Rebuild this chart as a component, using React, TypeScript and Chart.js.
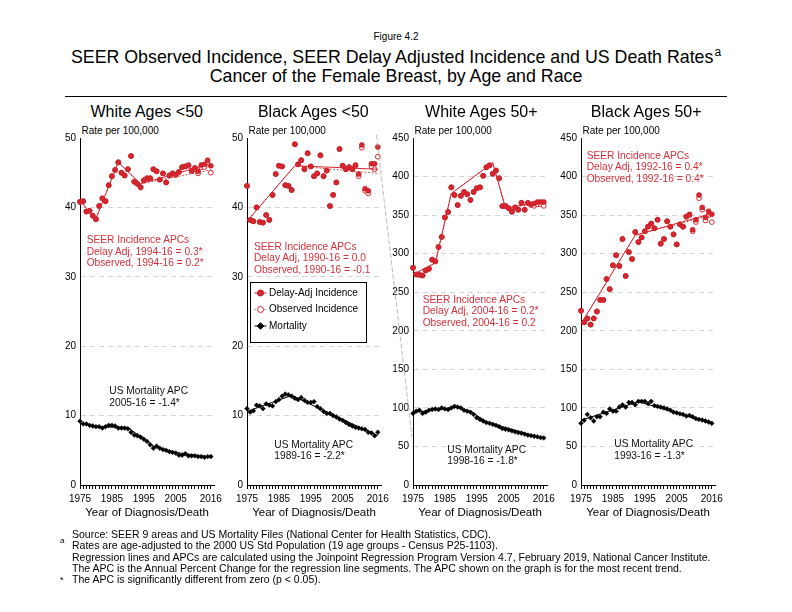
import React, { useEffect, useRef } from "react";
import { Chart, registerables } from "chart.js";

Chart.register(...registerables);

const FONT = "'Liberation Sans', Arial, Helvetica, sans-serif";
const RED = "#d9262e";
const RED_DARK = "#b51d26";
const RED_TEXT = "#d5303c";

const YEARS = [
  1975, 1976, 1977, 1978, 1979, 1980, 1981, 1982, 1983, 1984,
  1985, 1986, 1987, 1988, 1989, 1990, 1991, 1992, 1993, 1994,
  1995, 1996, 1997, 1998, 1999, 2000, 2001, 2002, 2003, 2004,
  2005, 2006, 2007, 2008, 2009, 2010, 2011, 2012, 2013, 2014,
  2015, 2016,
];
const X_TICK_LABELS = [1975, 1985, 1995, 2005, 2016];

// ---- White Ages <50 ----
const WU50_DELAY = [
  40.8, 40.9, 39.4, 39.5, 38.8, 38.3, 40.2, 41.3, 40.9, 43.2,
  44.5, 45.4, 46.5, 45.0, 44.6, 45.5, 47.4, 43.7, 43.4, 42.9,
  43.9, 44.2, 44.2, 45.5, 45.2, 44.0, 44.9, 43.6, 44.6, 44.9,
  44.7, 45.1, 45.8, 45.9, 46.1, 45.3, 45.7, 45.2, 46.1, 46.2,
  46.8, 46.0,
];
const WU50_OBS = [
  40.8, 40.9, 39.4, 39.5, 38.8, 38.3, 40.2, 41.3, 40.9, 43.2,
  44.5, 45.4, 46.5, 45.0, 44.6, 45.5, 47.4, 43.7, 43.4, 42.9,
  43.9, 44.2, 44.2, 45.5, 45.2, 44.0, 44.9, 43.6, 44.6, 44.9,
  44.7, 45.1, 45.8, 45.9, 46.0, 45.2, 45.5, 44.9, 45.8, 45.8,
  46.3, 45.0,
];
const WU50_MORT = [
  9.2, 8.8, 8.8, 8.6, 8.5, 8.4, 8.4, 8.2, 8.4, 8.6,
  8.6, 8.5, 8.2, 8.2, 8.2, 8.1, 7.6, 7.2, 7.1, 6.9,
  6.6, 6.3, 5.8, 5.3, 5.6, 5.3, 5.1, 5.0, 4.8, 4.7,
  4.6, 4.3, 4.3, 4.5, 4.2, 4.2, 4.2, 4.1, 4.1, 4.0,
  4.1, 4.1,
];
const WU50_TREND_YEARS = [1975, 1980, 1987, 1994, 2016];
const WU50_TREND_DELAY = [40.9, 38.4, 46.5, 43.4, 46.3];
const WU50_TREND_OBS = [40.9, 38.4, 46.5, 43.4, 45.4];
const WU50_MORT_TREND_YEARS = [1975, 1980, 1990, 1998, 2005, 2016];
const WU50_MORT_TREND = [8.9, 8.4, 8.3, 5.6, 4.7, 4.0];

// ---- Black Ages <50 ----
const BU50_DELAY = [
  43.1, 38.2, 38.0, 40.0, 37.9, 37.8, 38.9, 38.2, 41.8, 44.8,
  46.0, 45.9, 43.2, 43.1, 42.5, 49.1, 46.2, 46.8, 45.5, 47.8,
  45.9, 44.5, 44.9, 47.5, 44.5, 45.3, 40.2, 41.8, 43.6, 48.4,
  46.0, 45.5, 45.8, 45.5, 46.1, 44.8, 49.0, 42.7, 42.4, 46.3,
  46.3, 48.7,
];
const BU50_OBS = [
  43.1, 38.2, 38.0, 40.0, 37.9, 37.8, 38.9, 38.2, 41.8, 44.8,
  46.0, 45.9, 43.2, 43.1, 42.5, 49.1, 46.2, 46.8, 45.5, 47.8,
  45.9, 44.5, 44.9, 47.5, 44.5, 45.3, 40.2, 41.8, 43.6, 48.4,
  46.0, 45.5, 45.8, 45.5, 46.0, 44.5, 48.6, 42.4, 42.0, 45.9,
  45.5, 47.3,
];
const BU50_MORT = [
  11.0, 10.5, 10.7, 11.5, 11.4, 11.0, 11.7, 11.5, 11.4, 12.0,
  12.3, 12.8, 13.1, 13.0, 12.8, 12.5, 12.3, 12.6, 12.2, 11.9,
  11.9, 12.0, 11.3, 11.0, 10.6, 10.3, 10.3, 10.0, 9.8, 9.5,
  9.3, 9.0, 8.7, 8.5, 8.3, 8.2, 8.1, 8.0, 7.6, 7.5,
  7.1, 7.6,
];
const BU50_TREND_YEARS = [1975, 1990, 2016];
const BU50_TREND_DELAY = [38.0, 46.0, 45.5];
const BU50_TREND_OBS = [38.0, 46.0, 44.9];
const BU50_MORT_TREND_YEARS = [1975, 1989, 2016];
const BU50_MORT_TREND = [10.6, 12.9, 7.1];

// ---- White Ages 50+ ----
const W50P_DELAY = [
  281.7, 273.0, 272.5, 271.7, 278.3, 280.4, 292.2, 290.0, 308.7, 321.7,
  347.0, 354.0, 386.0, 376.0, 363.0, 375.0, 380.0, 377.0, 369.6, 380.0,
  384.8, 386.0, 401.0, 412.0, 414.5, 403.5, 407.8, 397.8, 361.7, 361.7,
  359.0, 354.3, 360.0, 357.0, 366.0, 357.0, 366.0, 364.0, 365.0, 367.0,
  367.0, 367.0,
];
const W50P_OBS = [
  281.7, 273.0, 272.5, 271.7, 278.3, 280.4, 292.2, 290.0, 308.7, 321.7,
  347.0, 354.0, 386.0, 376.0, 363.0, 375.0, 380.0, 377.0, 369.6, 380.0,
  384.8, 386.0, 401.0, 412.0, 414.5, 403.5, 407.8, 397.8, 361.7, 361.7,
  359.0, 354.3, 360.0, 357.0, 366.0, 357.0, 365.5, 363.0, 362.0, 364.0,
  364.0, 362.0,
];
const W50P_MORT = [
  92.8, 95.7, 97.0, 92.8, 94.5, 97.0, 97.9, 98.7, 97.9, 100.0,
  98.7, 97.9, 100.0, 102.0, 101.0, 100.0, 97.0, 95.7, 94.5, 91.5,
  87.2, 85.0, 83.0, 80.9, 80.0, 78.7, 77.4, 75.7, 73.2, 72.3,
  71.5, 70.2, 68.9, 68.0, 67.2, 66.0, 64.7, 64.0, 63.2, 62.5,
  61.5, 61.0,
];
const W50P_TREND_YEARS = [1975, 1982, 1987, 2000, 2004, 2016];
const W50P_TREND_DELAY = [273, 288, 378, 418, 359, 368];
const W50P_TREND_OBS = [273, 288, 378, 418, 359, 366];
const W50P_MORT_TREND_YEARS = [1975, 1989, 1994, 1998, 2016];
const W50P_MORT_TREND = [94, 101, 93, 82, 60];

// ---- Black Ages 50+ ----
const B50P_DELAY = [
  226, 211, 216, 208, 216, 225, 240, 240, 267, 254,
  285, 298, 284, 319, 271, 302, 293, 328, 315, 321,
  329, 335, 339, 333, 344, 313, 319, 342, 335, 325,
  312, 338, 335, 348, 351, 331, 344, 376, 360, 347,
  355, 351,
];
const B50P_OBS = [
  226, 211, 216, 208, 216, 225, 240, 240, 267, 254,
  285, 298, 284, 319, 271, 302, 293, 328, 315, 321,
  329, 335, 339, 333, 344, 313, 319, 342, 335, 325,
  312, 338, 335, 348, 350, 329, 341, 372, 357, 343,
  350, 341,
];
const B50P_MORT = [
  80.0, 84.0, 91.5, 87.2, 83.0, 88.5, 88.5, 94.5, 92.8, 98.7,
  95.7, 95.7, 101.0, 104.0, 101.0, 107.0, 107.0, 104.0, 108.5, 108.5,
  108.5, 105.5, 108.5, 103.0, 102.0, 101.0, 100.0, 98.7, 97.0, 94.5,
  93.6, 92.3, 91.5, 89.4, 90.2, 88.5, 86.0, 85.0, 84.3, 83.0,
  81.7, 80.0,
];
const B50P_TREND_YEARS = [1975, 1992, 2016];
const B50P_TREND_DELAY = [209, 324, 352];
const B50P_TREND_OBS = [209, 324, 350];
const B50P_MORT_TREND_YEARS = [1975, 1993, 2016];
const B50P_MORT_TREND = [84, 108, 80];

type PanelSpec = {
  title: string;
  left: number;
  titleX: number;
  yMax: number;
  yStep: number;
  delay: number[];
  observed: number[];
  mortality: number[];
  trendYears: number[];
  trendDelay: number[];
  trendObserved: number[];
  mortTrendYears: number[];
  mortTrend: number[];
  legend?: boolean;
};

const PANELS: PanelSpec[] = [
  {
    title: "White Ages <50", left: 80, titleX: 146.7, yMax: 50, yStep: 10,
    delay: WU50_DELAY, observed: WU50_OBS, mortality: WU50_MORT,
    trendYears: WU50_TREND_YEARS, trendDelay: WU50_TREND_DELAY, trendObserved: WU50_TREND_OBS,
    mortTrendYears: WU50_MORT_TREND_YEARS, mortTrend: WU50_MORT_TREND,
  },
  {
    title: "Black Ages <50", left: 247, titleX: 313.3, yMax: 50, yStep: 10,
    delay: BU50_DELAY, observed: BU50_OBS, mortality: BU50_MORT,
    trendYears: BU50_TREND_YEARS, trendDelay: BU50_TREND_DELAY, trendObserved: BU50_TREND_OBS,
    mortTrendYears: BU50_MORT_TREND_YEARS, mortTrend: BU50_MORT_TREND, legend: true,
  },
  {
    title: "White Ages 50+", left: 413, titleX: 481.3, yMax: 450, yStep: 50,
    delay: W50P_DELAY, observed: W50P_OBS, mortality: W50P_MORT,
    trendYears: W50P_TREND_YEARS, trendDelay: W50P_TREND_DELAY, trendObserved: W50P_TREND_OBS,
    mortTrendYears: W50P_MORT_TREND_YEARS, mortTrend: W50P_MORT_TREND,
  },
  {
    title: "Black Ages 50+", left: 581, titleX: 646.2, yMax: 450, yStep: 50,
    delay: B50P_DELAY, observed: B50P_OBS, mortality: B50P_MORT,
    trendYears: B50P_TREND_YEARS, trendDelay: B50P_TREND_DELAY, trendObserved: B50P_TREND_OBS,
    mortTrendYears: B50P_MORT_TREND_YEARS, mortTrend: B50P_MORT_TREND,
  },
];

const Y_AXIS_W = 30;
const X_AXIS_H = 35;
const PAD_TOP = 38;
const PAD_RIGHT = 14;
const PLOT_W = 134;
const CANVAS_W = Y_AXIS_W + PLOT_W + PAD_RIGHT;
const CANVAS_H = 422;
const CANVAS_TOP = 100;

const boxLegend = {
  id: "boxLegend",
  afterDraw(chart: any) {
    const ctx = chart.ctx as CanvasRenderingContext2D;
    const ca = chart.chartArea;
    const x = Math.round(ca.left + 3);
    const y = Math.round(ca.top + 144);
    const w = 116;
    const h = 60;
    ctx.save();
    ctx.fillStyle = "#fff";
    ctx.fillRect(x, y, w, h);
    ctx.strokeStyle = "#000";
    ctx.lineWidth = 1;
    ctx.strokeRect(x + 0.5, y + 0.5, w, h);
    const ds = chart.data.datasets;
    const items = [ds[2], ds[3], ds[5]];
    const offs = [11, 27.5, 44];
    const mx = x + 10.5;
    items.forEach((d: any, i: number) => {
      const iy = y + offs[i];
      ctx.setLineDash(i === 1 ? [1, 1.5] : []);
      ctx.strokeStyle = d.pointBorderColor;
      ctx.lineWidth = 1;
      ctx.beginPath();
      ctx.moveTo(mx - 6, iy);
      ctx.lineTo(mx + 6, iy);
      ctx.stroke();
      ctx.setLineDash([]);
      ctx.fillStyle = d.pointBackgroundColor;
      ctx.strokeStyle = d.pointBorderColor;
      ctx.beginPath();
      if (d.pointStyle === "rectRot") {
        ctx.moveTo(mx, iy - 3.3);
        ctx.lineTo(mx + 3.3, iy);
        ctx.lineTo(mx, iy + 3.3);
        ctx.lineTo(mx - 3.3, iy);
        ctx.closePath();
      } else {
        ctx.arc(mx, iy, 3, 0, Math.PI * 2);
      }
      ctx.fill();
      ctx.stroke();
      ctx.fillStyle = "#000";
      ctx.font = `10px ${FONT}`;
      ctx.textBaseline = "middle";
      ctx.textAlign = "left";
      ctx.fillText(d.label, x + 19, iy);
    });
    ctx.restore();
  },
};

function ChartPanel({ p }: { p: PanelSpec }) {
  const ref = useRef<HTMLCanvasElement>(null);
  useEffect(() => {
    const pts = (xs: number[], ys: number[]) => xs.map((x, i) => ({ x, y: ys[i] }));
    const chart = new Chart(ref.current as HTMLCanvasElement, {
      type: "scatter",
      data: {
        datasets: [
          {
            label: "Delay-Adj trend",
            data: pts(p.trendYears, p.trendDelay),
            showLine: true,
            borderColor: RED,
            borderWidth: 1,
            pointRadius: 0,
            clip: false,
          },
          {
            label: "Observed trend",
            data: pts(p.trendYears, p.trendObserved),
            showLine: true,
            borderColor: RED,
            borderWidth: 1,
            borderDash: [1.5, 2],
            pointRadius: 0,
            clip: false,
          },
          {
            label: "Delay-Adj Incidence",
            data: pts(YEARS, p.delay),
            showLine: false,
            pointStyle: "circle",
            pointRadius: 2.5,
            pointBackgroundColor: RED,
            pointBorderColor: RED_DARK,
            pointBorderWidth: 0.6,
            clip: false,
          },
          {
            label: "Observed Incidence",
            data: pts(YEARS, p.observed),
            showLine: false,
            pointStyle: "circle",
            pointRadius: 2.4,
            pointBackgroundColor: "#ffffff",
            pointBorderColor: RED,
            pointBorderWidth: 1,
            clip: false,
          },
          {
            label: "Mortality trend",
            data: pts(p.mortTrendYears, p.mortTrend),
            showLine: true,
            borderColor: "#000",
            borderWidth: 1,
            pointRadius: 0,
            clip: false,
          },
          {
            label: "Mortality",
            data: pts(YEARS, p.mortality),
            showLine: false,
            pointStyle: "rectRot",
            pointRadius: 2.4,
            pointBackgroundColor: "#000",
            pointBorderColor: "#000",
            pointBorderWidth: 0.5,
            clip: false,
          },
        ] as any,
      },
      options: {
        animation: false,
        responsive: false,
        events: [],
        layout: { padding: { top: PAD_TOP, right: PAD_RIGHT, left: 0, bottom: 0 } },
        plugins: { legend: { display: false }, tooltip: { enabled: false } },
        scales: {
          x: {
            type: "linear",
            min: 1975,
            max: 2017,
            afterBuildTicks: (scale: any) => {
              scale.ticks = YEARS.map((v) => ({ value: v }));
            },
            afterFit: (scale: any) => {
              scale.height = X_AXIS_H + 2;
            },
            ticks: {
              autoSkip: false,
              maxRotation: 0,
              minRotation: 0,
              padding: 4,
              color: "#000",
              font: { family: FONT, size: 10 },
              callback: (v: any) => (X_TICK_LABELS.includes(Number(v)) ? String(v) : ""),
            },
            grid: {
              drawOnChartArea: false,
              drawTicks: true,
              tickLength: 4,
              tickColor: "#000",
              tickWidth: 1,
              color: "#000",
            },
            border: { display: true, color: "#000", width: 1 },
            title: {
              display: true,
              text: "Year of Diagnosis/Death",
              color: "#000",
              font: { family: FONT, size: 11.5 },
              padding: { top: 0, bottom: 2.5 },
            },
          },
          y: {
            type: "linear",
            min: 0,
            max: p.yMax,
            afterFit: (scale: any) => {
              scale.width = Y_AXIS_W;
            },
            ticks: {
              stepSize: p.yStep,
              padding: 4,
              color: "#000",
              font: { family: FONT, size: 10 },
            },
            grid: {
              drawTicks: false,
              lineWidth: 1,
              color: (c: any) =>
                c.tick && (c.tick.value === 0 || c.tick.value === p.yMax) ? "rgba(0,0,0,0)" : "#d6d6d6",
            },
            border: { display: true, color: "#000", width: 1, dash: [5, 4] },
          },
        },
      } as any,
      plugins: p.legend ? [boxLegend as any] : [],
    });
    return () => chart.destroy();
  }, [p]);
  return (
    <canvas
      ref={ref}
      width={CANVAS_W}
      height={CANVAS_H}
      style={{
        position: "absolute",
        left: p.left - Y_AXIS_W,
        top: CANVAS_TOP,
        width: CANVAS_W,
        height: CANVAS_H,
      }}
    />
  );
}

function T({
  x, y, size, color = "#000", center = false, children,
}: {
  x: number; y: number; size: number; color?: string; center?: boolean; children: React.ReactNode;
}) {
  const lh = size * 1.2;
  return (
    <div
      style={{
        position: "absolute",
        left: center ? x - 400 : x,
        width: center ? 800 : undefined,
        top: y - lh / 2,
        fontSize: size,
        lineHeight: `${lh}px`,
        color,
        textAlign: center ? "center" : "left",
        whiteSpace: "nowrap",
        fontFamily: FONT,
      }}
    >
      {children}
    </div>
  );
}

const ANNOTATIONS = [
  { x: 86.7, y: 240.5, lines: ["SEER Incidence APCs", "Delay Adj, 1994-16 = 0.3*", "Observed, 1994-16 = 0.2*"], color: RED_TEXT },
  { x: 109.3, y: 391.5, lines: ["US Mortality APC", "2005-16 = -1.4*"], color: "#111" },
  { x: 254, y: 246.7, lines: ["SEER Incidence APCs", "Delay Adj, 1990-16 = 0.0", "Observed, 1990-16 = -0.1"], color: RED_TEXT },
  { x: 274.3, y: 445, lines: ["US Mortality APC", "1989-16 = -2.2*"], color: "#111" },
  { x: 422.7, y: 300, lines: ["SEER Incidence APCs", "Delay Adj, 2004-16 = 0.2*", "Observed, 2004-16 = 0.2"], color: RED_TEXT },
  { x: 447.3, y: 450, lines: ["US Mortality APC", "1998-16 = -1.8*"], color: "#111" },
  { x: 586.7, y: 156, lines: ["SEER Incidence APCs", "Delay Adj, 1992-16 = 0.4*", "Observed, 1992-16 = 0.4*"], color: RED_TEXT },
  { x: 614.3, y: 444.5, lines: ["US Mortality APC", "1993-16 = -1.3*"], color: "#111" },
];

const FOOTNOTES = [
  "Source: SEER 9 areas and US Mortality Files (National Center for Health Statistics, CDC).",
  "Rates are age-adjusted to the 2000 US Std Population (19 age groups - Census P25-1103).",
  "Regression lines and APCs are calculated using the Joinpoint Regression Program Version 4.7, February 2019, National Cancer Institute.",
  "The APC is the Annual Percent Change for the regression line segments. The APC shown on the graph is for the most recent trend.",
  "The APC is significantly different from zero (p < 0.05).",
];
const FOOT_Y = [534, 545.5, 557, 568, 579];

export default function App() {
  return (
    <div
      style={{
        position: "absolute",
        left: 0,
        top: 0,
        width: 792,
        height: 612,
        background: "#fff",
        overflow: "hidden",
        fontFamily: FONT,
      }}
    >
      <T x={396} y={37} size={10} center>Figure 4.2</T>
      <T x={396} y={58} size={17.8} center>
        SEER Observed Incidence, SEER Delay Adjusted Incidence and US Death Rates
        <span style={{ fontSize: 12, position: "relative", top: -7, marginLeft: 1 }}>a</span>
      </T>
      <T x={396} y={76.5} size={17.8} center>Cancer of the Female Breast, by Age and Race</T>
      <div style={{ position: "absolute", left: 65, top: 96, width: 662, height: 0, borderTop: "1px solid #000" }} />

      {PANELS.map((p) => (
        <React.Fragment key={p.title}>
          <T x={p.titleX} y={112} size={16} center>{p.title}</T>
          <T x={p.left + 1.5} y={131} size={10}>Rate per 100,000</T>
          <ChartPanel p={p} />
        </React.Fragment>
      ))}

      {ANNOTATIONS.map((a, i) =>
        a.lines.map((l, j) => (
          <T key={`${i}-${j}`} x={a.x} y={a.y + j * 11.5} size={10.2} color={a.color}>{l}</T>
        ))
      )}

      <svg
        width={792}
        height={612}
        style={{ position: "absolute", left: 0, top: 0, pointerEvents: "none" }}
      >
        <line x1={376.5} y1={135} x2={412} y2={437} stroke="#aaaaaa" strokeWidth={0.8} strokeDasharray="5 2" />
      </svg>

      <T x={60} y={540.5} size={8}>a</T>
      <T x={60} y={580} size={9}>*</T>
      {FOOTNOTES.map((f, i) => (
        <T key={i} x={72} y={FOOT_Y[i]} size={10.5}>{f}</T>
      ))}
    </div>
  );
}
